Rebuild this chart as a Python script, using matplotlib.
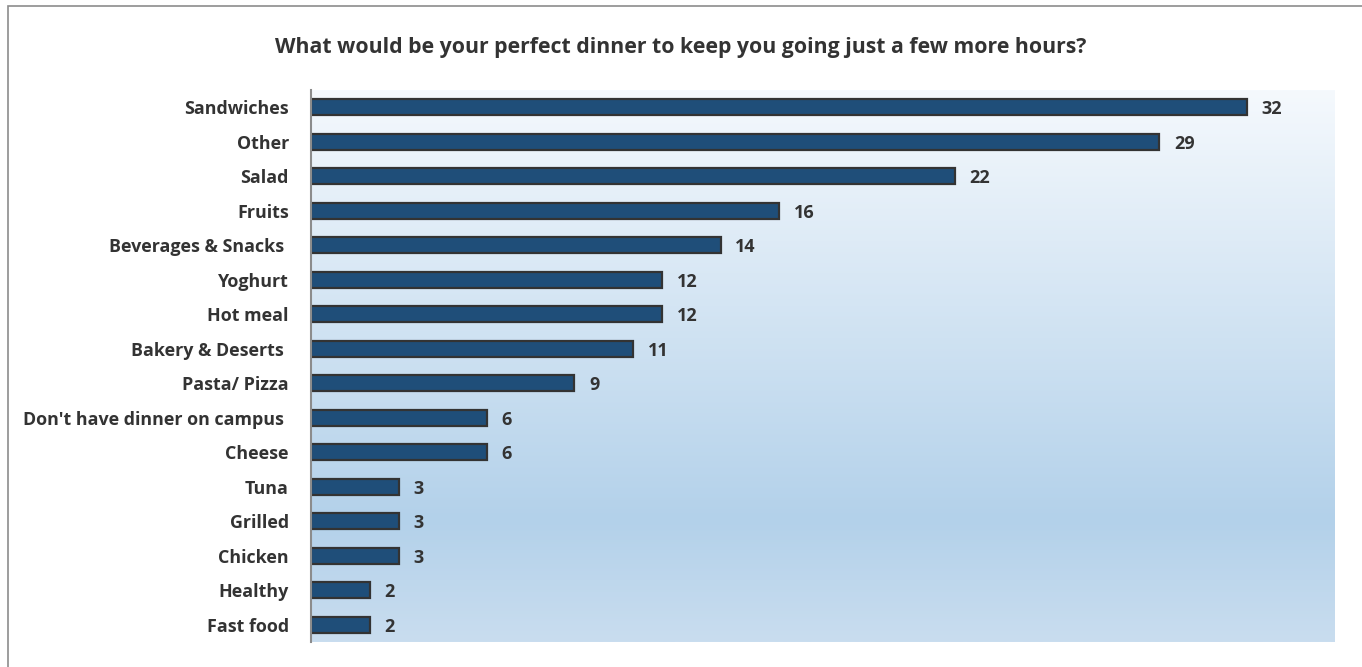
import numpy as np
import matplotlib.pyplot as plt
from matplotlib.colors import LinearSegmentedColormap
from matplotlib.patches import Rectangle

# Survey answers, top to bottom
categories = ["Sandwiches", "Other", "Salad", "Fruits", "Beverages & Snacks ",
              "Yoghurt", "Hot meal", "Bakery & Deserts ", "Pasta/ Pizza",
              "Don't have dinner on campus ", "Cheese", "Tuna", "Grilled",
              "Chicken", "Healthy", "Fast food"]
counts = [32, 29, 22, 16, 14, 12, 12, 11, 9, 6, 6, 3, 3, 3, 2, 2]

title = "What would be your perfect dinner to keep you going just a few more hours?"

plt.rcParams["font.family"] = ["Open Sans", "DejaVu Sans"]
text_color = "#333333"

fig = plt.figure(figsize=(13.62, 6.67), dpi=100)
ax = fig.add_axes([311 / 1362, 1 - 642 / 667, 1024 / 1362, 552 / 667])

# Vertical blue gradient behind the bars
grad = LinearSegmentedColormap.from_list(
    "bg", [(0.0, "#f5f9fd"), (0.78, "#b3d1ea"), (1.0, "#c9ddef")])
ax.imshow(np.linspace(0, 1, 256).reshape(-1, 1), cmap=grad, aspect="auto",
          extent=(0, 1, 0, 1), transform=ax.transAxes, zorder=0)

y = np.arange(len(categories))
ax.barh(y, counts, height=0.45, color="#1f4e79", edgecolor="#333333",
        linewidth=1.6, zorder=2)

for yi, v in zip(y, counts):
    ax.text(v + 0.5, yi, str(v), va="center_baseline", ha="left", fontsize=13,
            fontweight="bold", color=text_color)

ax.set_xlim(0, 35)
ax.set_ylim(len(categories) - 0.5, -0.5)
ax.set_yticks(y)
ax.set_yticklabels(categories, fontsize=12.9, fontweight="bold", color=text_color)
ax.tick_params(axis="y", length=0, pad=16)
ax.set_xticks([])
for side in ["top", "right", "bottom"]:
    ax.spines[side].set_visible(False)
ax.spines["left"].set_color("#8c8c8c")
ax.spines["left"].set_linewidth(1.5)
ax.spines["left"].set_zorder(3)

fig.text(0.5, 1 - 47 / 667, title, ha="center", va="center", fontsize=15.3,
         fontweight="bold", color=text_color)

# Outer chart frame
fig.patches.append(Rectangle((8 / 1362, -0.1), 1.2, 1.1 - 6 / 667,
                             transform=fig.transFigure, fill=False,
                             edgecolor="#8c8c8c", linewidth=1.2))

fig.savefig("out.png", dpi=100)
